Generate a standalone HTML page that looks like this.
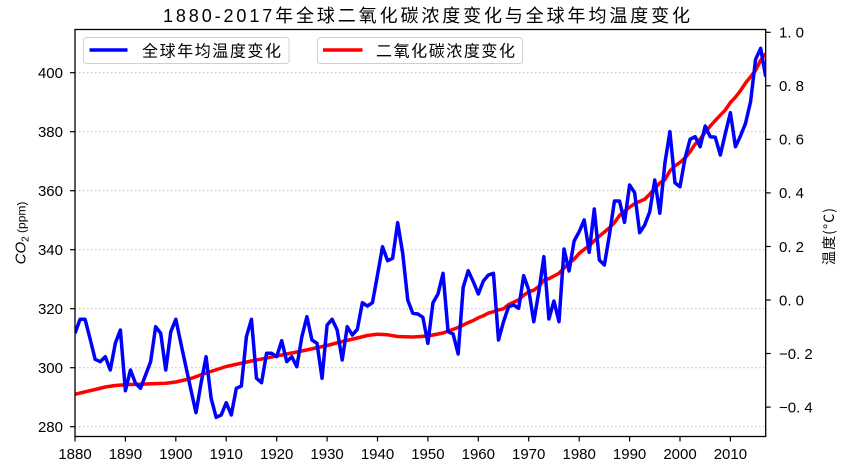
<!DOCTYPE html>
<html><head><meta charset="utf-8"><style>
html,body{margin:0;padding:0;background:#fff;}
svg{display:block;}
text{font-family:"Liberation Sans","WenQuanYi Zen Hei","Noto Sans CJK SC",sans-serif;fill:#000;}
.cjk{font-family:"WenQuanYi Zen Hei","Noto Sans CJK SC",sans-serif;}
</style></head><body>
<svg width="850" height="470" viewBox="0 0 850 470" xmlns="http://www.w3.org/2000/svg">
<defs><clipPath id="pa"><rect x="75" y="29.5" width="690.7" height="407"/></clipPath></defs>
<rect width="850" height="470" fill="#fff"/>
<!-- grid -->
<g stroke="#c4c4c4" stroke-width="1.2" stroke-dasharray="1.5,2.5">
<line x1="75" x2="765.7" y1="426.7" y2="426.7"/>
<line x1="75" x2="765.7" y1="367.7" y2="367.7"/>
<line x1="75" x2="765.7" y1="308.7" y2="308.7"/>
<line x1="75" x2="765.7" y1="249.7" y2="249.7"/>
<line x1="75" x2="765.7" y1="190.7" y2="190.7"/>
<line x1="75" x2="765.7" y1="131.7" y2="131.7"/>
<line x1="75" x2="765.7" y1="72.7" y2="72.7"/>
</g>
<g clip-path="url(#pa)">
<polyline fill="none" stroke="#ff0000" stroke-width="3.5" stroke-linejoin="round" vector-effect="non-scaling-stroke" transform="translate(75,0) scale(5.0416,1)" points="0,394.3 2,391.8 4,389.5 6,387 8,385.5 10,384.7 14,384 18,383.2 20,382 23,378.5 26,373 30,366.5 35,361 40,356 45,351 50,345.5 53,341.5 56,338 58,335.5 60,334.2 62,334.8 64,336.5 67,337 70,336 73,333 76,327.5 78,322.6 79,320.5 80,317.8 81,315.8 82,313.1 83,311.7 84,309.9 85,308.7 86,304.6 87,302.2 88,299.9 89,295.2 90,291.9 91,290.2 92,286.6 93,280.2 94,278.7 95,276.0 96,273.3 97,268.0 98,263.3 99,259.2 100,253.5 101,249.4 102,245.6 103,240.9 104,236.2 105,232.0 106,227.9 107,222.6 108,215.5 109,211.1 110,207.2 111,203.7 112,201.4 113,199.3 114,194.3 115,188.3 116,183.0 117,179.8 118,170.9 119,165.9 120,162.4 121,158.0 122,151.8 123,144.1 124,139.1 125,132.3 126,126.1 127,120.5 128,115.2 129,109.9 130,102.5 131,97.2 132,90.7 133,83.0 134,76.8 135,70.3 136,60.3 137,53.5"/>
<polyline fill="none" stroke="#0000ff" stroke-width="3.5" stroke-linejoin="round" vector-effect="non-scaling-stroke" transform="translate(75,0) scale(5.0416,1)" points="0,333.3 1,319.3 2,319.3 3,339 4,359.3 5,361.7 6,356.7 7,370 8,343.3 9,330 10,390.7 11,370 12,383.3 13,388.3 14,375 15,361.7 16,326.7 17,333.3 18,370 19,331.7 20,319.3 21,343.3 22,366.7 23,390 24,412.7 25,383.3 26,356.7 27,398.3 28,417.3 29,415 30,402.7 31,415 32,388.3 33,386 34,336.7 35,319.3 36,378.3 37,382.7 38,353.3 39,353.3 40,356.7 41,340.7 42,361.7 43,356.7 44,366.7 45,336.7 46,316.7 47,340 48,343.3 49,378.3 50,325 51,319.3 52,330 53,360 54,326.7 55,335 56,329.3 57,302.7 58,306 59,302.7 60,275 61,246.7 62,260.7 63,258.3 64,222.7 65,253.3 66,300 67,313.3 68,314 69,317.3 70,343.3 71,302.7 72,294 73,273.3 74,331.7 75,334 76,354 77,287.3 78,270.7 79,281.7 80,294 81,281 82,275 83,273.3 84,340 85,321.7 86,306.7 87,305 88,308.3 89,275.7 90,290 91,321.7 92,291.7 93,256.7 94,319 95,301 96,321.7 97,249 98,271 99,241 100,231.7 101,220 102,252.3 103,209 104,260 105,265 106,235 107,201 108,201 109,222.3 110,185 111,192.7 112,232.7 113,225 114,211.7 115,180 116,213.3 117,163.3 118,131.7 119,182.7 120,186.7 121,158.3 122,139.3 123,136.7 124,146.7 125,126 126,136.7 127,137.3 128,155 129,133.3 130,112.7 131,146.7 132,136 133,123.3 134,101.7 135,59.3 136,48.3 137,76.7"/>
</g>
<!-- spines -->
<rect x="75" y="29.5" width="690.7" height="407" fill="none" stroke="#000" stroke-width="1.3"/>
<!-- left ticks -->
<g stroke="#000" stroke-width="1.2">
<line x1="70" x2="75" y1="426.7" y2="426.7"/>
<line x1="70" x2="75" y1="367.7" y2="367.7"/>
<line x1="70" x2="75" y1="308.7" y2="308.7"/>
<line x1="70" x2="75" y1="249.7" y2="249.7"/>
<line x1="70" x2="75" y1="190.7" y2="190.7"/>
<line x1="70" x2="75" y1="131.7" y2="131.7"/>
<line x1="70" x2="75" y1="72.7" y2="72.7"/>
<!-- right ticks -->
<line x1="765.7" x2="770.7" y1="32.3" y2="32.3"/>
<line x1="765.7" x2="770.7" y1="85.8" y2="85.8"/>
<line x1="765.7" x2="770.7" y1="139.4" y2="139.4"/>
<line x1="765.7" x2="770.7" y1="192.9" y2="192.9"/>
<line x1="765.7" x2="770.7" y1="246.5" y2="246.5"/>
<line x1="765.7" x2="770.7" y1="300" y2="300"/>
<line x1="765.7" x2="770.7" y1="353.5" y2="353.5"/>
<line x1="765.7" x2="770.7" y1="407.1" y2="407.1"/>
<!-- bottom ticks -->
<line x1="75" x2="75" y1="436.5" y2="441.5"/>
<line x1="125.4" x2="125.4" y1="436.5" y2="441.5"/>
<line x1="175.8" x2="175.8" y1="436.5" y2="441.5"/>
<line x1="226.2" x2="226.2" y1="436.5" y2="441.5"/>
<line x1="276.7" x2="276.7" y1="436.5" y2="441.5"/>
<line x1="327.1" x2="327.1" y1="436.5" y2="441.5"/>
<line x1="377.5" x2="377.5" y1="436.5" y2="441.5"/>
<line x1="427.9" x2="427.9" y1="436.5" y2="441.5"/>
<line x1="478.3" x2="478.3" y1="436.5" y2="441.5"/>
<line x1="528.7" x2="528.7" y1="436.5" y2="441.5"/>
<line x1="579.2" x2="579.2" y1="436.5" y2="441.5"/>
<line x1="629.6" x2="629.6" y1="436.5" y2="441.5"/>
<line x1="680" x2="680" y1="436.5" y2="441.5"/>
<line x1="730.4" x2="730.4" y1="436.5" y2="441.5"/>
</g>
<!-- left tick labels -->
<g font-size="15" text-anchor="end">
<text x="63" y="432">280</text>
<text x="63" y="373">300</text>
<text x="63" y="314">320</text>
<text x="63" y="255">340</text>
<text x="63" y="196">360</text>
<text x="63" y="137">380</text>
<text x="63" y="78">400</text>
</g>
<!-- right tick labels -->
<g font-size="15" text-anchor="start">
<text x="779" y="37.6">1. 0</text>
<text x="779" y="91.1">0. 8</text>
<text x="779" y="144.7">0. 6</text>
<text x="779" y="198.2">0. 4</text>
<text x="779" y="251.8">0. 2</text>
<text x="779" y="305.3">0. 0</text>
<text x="779" y="358.8">−0. 2</text>
<text x="779" y="412.4">−0. 4</text>
</g>
<!-- bottom tick labels -->
<g font-size="15" text-anchor="middle">
<text x="75" y="459">1880</text>
<text x="125.4" y="459">1890</text>
<text x="175.8" y="459">1900</text>
<text x="226.2" y="459">1910</text>
<text x="276.7" y="459">1920</text>
<text x="327.1" y="459">1930</text>
<text x="377.5" y="459">1940</text>
<text x="427.9" y="459">1950</text>
<text x="478.3" y="459">1960</text>
<text x="528.7" y="459">1970</text>
<text x="579.2" y="459">1980</text>
<text x="629.6" y="459">1990</text>
<text x="680" y="459">2000</text>
<text x="730.4" y="459">2010</text>
</g>
<!-- title -->
<text x="163" y="22" font-size="18" textLength="527" lengthAdjust="spacing">1880-2017年全球二氧化碳浓度变化与全球年均温度变化</text>
<!-- y labels -->
<text transform="translate(25.5,233) rotate(-90)" text-anchor="middle"><tspan font-size="15" font-style="italic">CO</tspan><tspan font-size="10" dy="3">2</tspan><tspan font-size="12" dy="-3"> (ppm)</tspan></text>
<text class="cjk" transform="translate(834,265) rotate(-90)" font-size="14" textLength="57" lengthAdjust="spacing">温度(°C)</text>
<!-- legends -->
<rect x="83.5" y="37.5" width="205.5" height="26" rx="3" ry="3" fill="#fff" fill-opacity="0.85" stroke="#d0d0d0" stroke-width="1"/>
<line x1="89.5" x2="127.5" y1="50" y2="50" stroke="#0000ff" stroke-width="3.5"/>
<text class="cjk" x="142" y="56.5" font-size="16" textLength="139" lengthAdjust="spacing">全球年均温度变化</text>
<rect x="317.5" y="37.5" width="205" height="26" rx="3" ry="3" fill="#fff" fill-opacity="0.85" stroke="#d0d0d0" stroke-width="1"/>
<line x1="323" x2="362.5" y1="50" y2="50" stroke="#ff0000" stroke-width="3.5"/>
<text class="cjk" x="376" y="56.5" font-size="16" textLength="139" lengthAdjust="spacing">二氧化碳浓度变化</text>
</svg>
</body></html>
